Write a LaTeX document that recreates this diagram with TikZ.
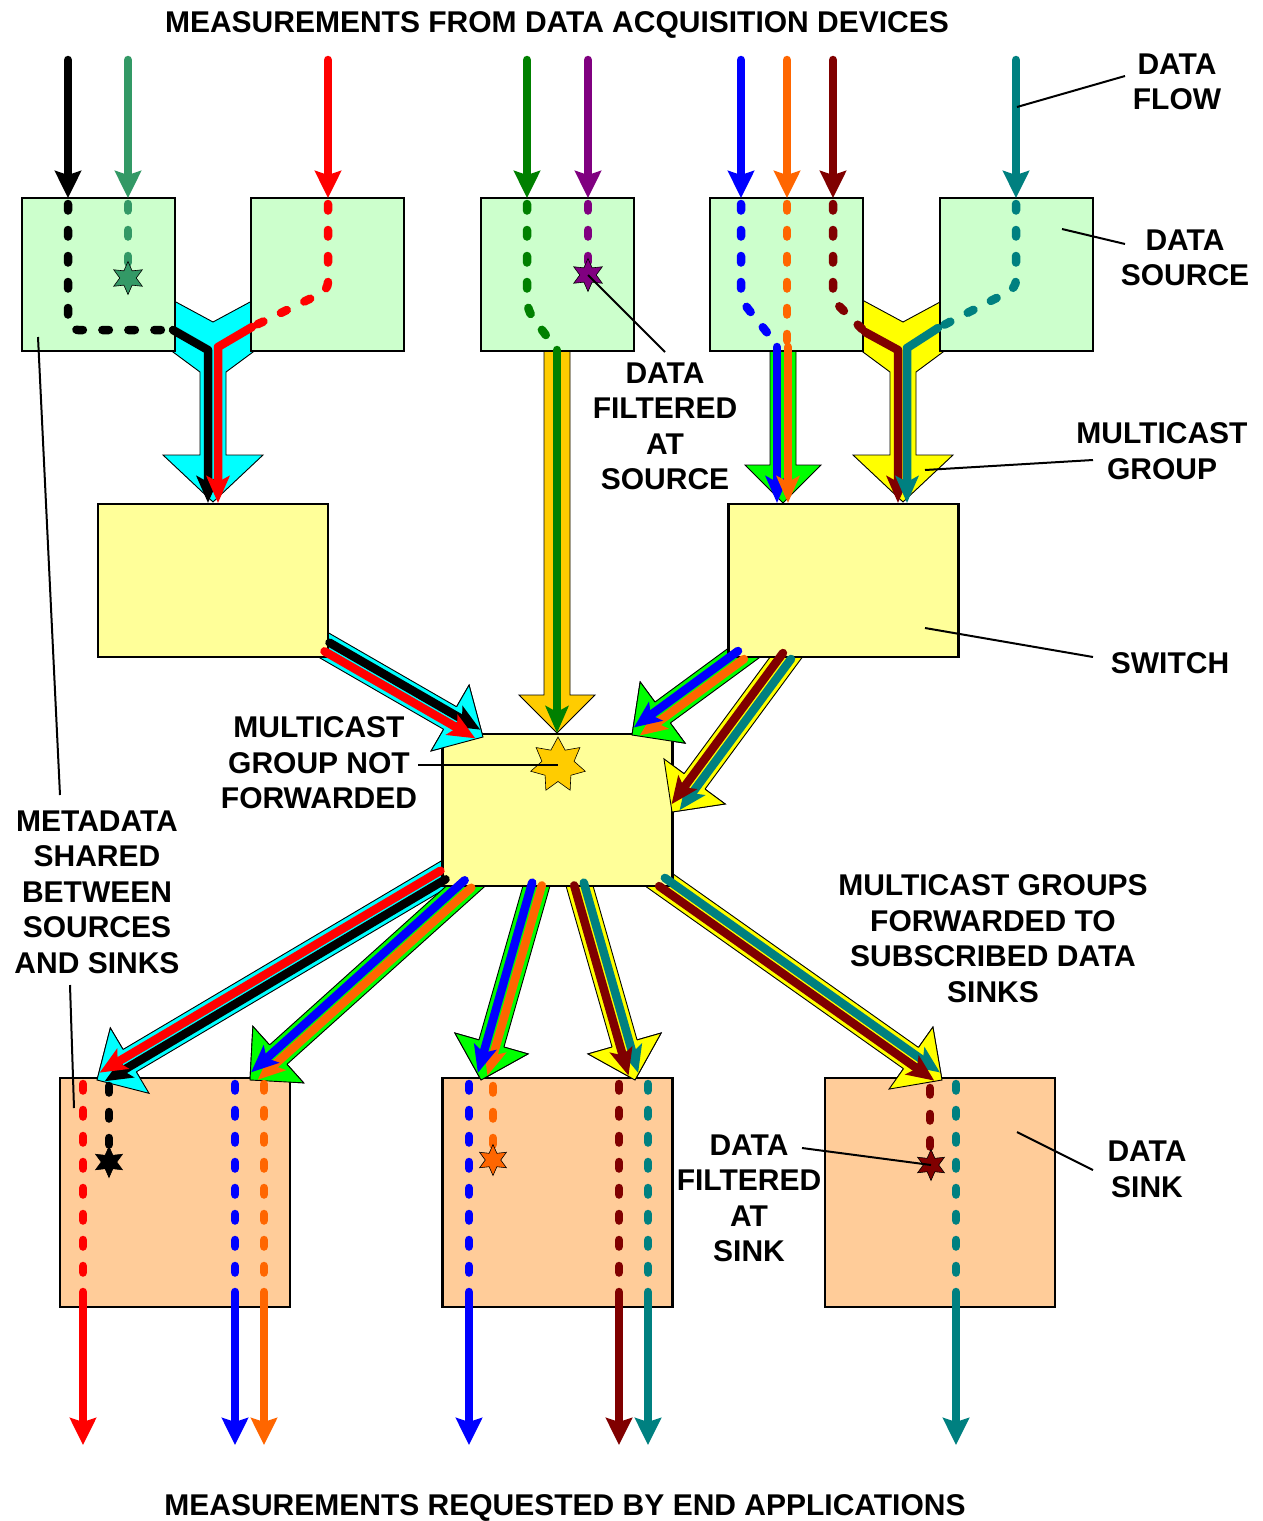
\documentclass[tikz,border=0pt]{standalone}
\usepackage{fontspec}
\setmainfont{Liberation Sans}
\usetikzlibrary{calc,arrows.meta,shapes.geometric}

\definecolor{srcfill}{HTML}{CCFFCC}
\definecolor{swfill}{HTML}{FFFF99}
\definecolor{sinkfill}{HTML}{FFCC99}
\definecolor{cseagreen}{HTML}{339966}
\definecolor{cgreen}{HTML}{008000}
\definecolor{cpurple}{HTML}{800080}
\definecolor{cblue}{HTML}{0000FF}
\definecolor{corange}{HTML}{FF6600}
\definecolor{cdarkred}{HTML}{800000}
\definecolor{cteal}{HTML}{008080}
\definecolor{cred}{HTML}{FF0000}
\definecolor{ccyan}{HTML}{00FFFF}
\definecolor{clime}{HTML}{00FF00}
\definecolor{cyellow}{HTML}{FFFF00}
\definecolor{cgold}{HTML}{FFCC00}

\newcommand{\lblfont}{\fontsize{30}{35.5}\selectfont\bfseries}

\tikzset{
  srcbox/.style={draw=black, line width=2.4pt, fill=srcfill, minimum width=153pt, minimum height=153pt, inner sep=0pt, outer sep=0pt},
  swbox/.style={draw=black, line width=2.4pt, fill=swfill, minimum width=230pt, minimum height=153pt, inner sep=0pt, outer sep=0pt},
  sinkbox/.style={draw=black, line width=2.4pt, fill=sinkfill, minimum width=230pt, minimum height=229pt, inner sep=0pt, outer sep=0pt},
  lbl/.style={font=\lblfont, align=center, inner sep=0pt},
  leader/.style={draw=black, line width=2pt},
  fatedge/.style={draw=black, line width=0.9pt, line join=miter},
  flowline/.style={line width=8.5pt, line cap=round, line join=round},
  dashline/.style={flowline, dash pattern=on 6.5pt off 19.5pt},
  endtip/.style={-{Stealth[length=27pt, width=26pt, inset=4pt]}},
  bundletip/.style={-{Stealth[length=27pt, width=23pt, inset=6pt]}},
  filterstar/.style={star, star point ratio=2, inner sep=0pt, draw=black, line width=0.6pt},
}

% wide outlined arrow from #2 to tip #3, filled with #1
\newcommand{\fatbody}[3]{%
  \path ($(#3)!38pt!(#2)$) coordinate (fbh) ($(#2)!-14pt!(#3)$) coordinate (fbs);
  \draw[fatedge, fill=#1] ($(fbs)!13pt!90:(#3)$) -- ($(fbh)!13pt!90:(#3)$) -- ($(fbh)!38pt!90:(#3)$) -- (#3)
    -- ($(fbh)!38pt!-90:(#3)$) -- ($(fbh)!13pt!-90:(#3)$) -- ($(fbs)!13pt!-90:(#3)$) -- cycle;}
% the head of such an arrow again, drawn over the box it points to
\newcommand{\fathead}[3]{%
  \path ($(#3)!38pt!(#2)$) coordinate (fbh);
  \fill[#1] ($(fbh)!38pt!90:(#3)$) -- (#3) -- ($(fbh)!38pt!-90:(#3)$) -- cycle;
  \draw[fatedge] ($(fbh)!13pt!90:(#3)$) -- ($(fbh)!38pt!90:(#3)$) -- (#3) -- ($(fbh)!38pt!-90:(#3)$) -- ($(fbh)!13pt!-90:(#3)$);}
% two flows side by side inside a wide arrow: #3 on the left, #4 on the right
\newcommand{\linepair}[4]{%
  \path ($(#2)!6pt!(#1)$) coordinate (lpe);
  \draw[flowline, bundletip, #3] ($(#1)!5pt!90:(#2)$) -- ($(lpe)!5pt!90:(#2)$);
  \draw[flowline, bundletip, #4] ($(#1)!5pt!-90:(#2)$) -- ($(lpe)!5pt!-90:(#2)$);}
% Y-shaped multicast arrow joining two sources
\newcommand{\yarrow}[1]{%
  \draw[fatedge, fill=#1] (150,288) -- (213,322) -- (276,288) -- (276,335) -- (226,372) -- (226,455)
    -- (263,455) -- (213,502) -- (163,455) -- (200,455) -- (200,372) -- (150,335) -- cycle;}

\begin{document}
\begin{tikzpicture}[x=1pt, y=-1pt]
\useasboundingbox (0,0) rectangle (1262,1521);
\fill[white] (0,0) rectangle (1262,1521);

% ---------- bundle end points ----------
\coordinate (ga) at (557,345);  \coordinate (gb) at (557,733);
\coordinate (la) at (783,345);  \coordinate (lb) at (783,503);
\coordinate (c1a) at (327,647); \coordinate (c1b) at (483,737);
\coordinate (l2a) at (741,655); \coordinate (l2b) at (632,735);
\coordinate (y2a) at (787,656); \coordinate (y2b) at (672,812);
\coordinate (c3a) at (443,875); \coordinate (c3b) at (97,1080);
\coordinate (l3a) at (468,884); \coordinate (l3b) at (250,1080);
\coordinate (l4a) at (537,884); \coordinate (l4b) at (481,1080);
\coordinate (y4a) at (579,884); \coordinate (y4b) at (635,1080);
\coordinate (y5a) at (662,882); \coordinate (y5b) at (942,1080);

% ---------- multicast group arrows (under the boxes) ----------
\yarrow{ccyan}
\begin{scope}[xshift=690pt]\yarrow{cyellow}\end{scope}
\fatbody{cgold}{ga}{gb}
\fatbody{clime}{la}{lb}
\fatbody{ccyan}{c1a}{c1b}
\fatbody{clime}{l2a}{l2b}
\fatbody{cyellow}{y2a}{y2b}
\fatbody{ccyan}{c3a}{c3b}
\fatbody{clime}{l3a}{l3b}
\fatbody{clime}{l4a}{l4b}
\fatbody{cyellow}{y4a}{y4b}
\fatbody{cyellow}{y5a}{y5b}

% ---------- data sources ----------
\node[srcbox] (s1) at (98.5,274.5) {};
\node[srcbox] (s2) at (327.5,274.5) {};
\node[srcbox] (s3) at (557.5,274.5) {};
\node[srcbox] (s4) at (786.5,274.5) {};
\node[srcbox] (s5) at (1016.5,274.5) {};
% ---------- switches ----------
\node[swbox] (w1) at (213,580.5) {};
\node[swbox] (w2) at (843.5,580.5) {};
\node[swbox, minimum height=152pt] (w3) at (557.5,810) {};
% ---------- data sinks ----------
\node[sinkbox] (k1) at (175,1192.5) {};
\node[sinkbox] (k2) at (557.5,1192.5) {};
\node[sinkbox] (k3) at (940,1192.5) {};

% heads lying over the receiving boxes
\fathead{ccyan}{c1a}{c1b}
\fathead{clime}{l2a}{l2b}
\fathead{cyellow}{y2a}{y2b}
\fathead{ccyan}{c3a}{c3b}
\fathead{clime}{l3a}{l3b}
\fathead{clime}{l4a}{l4b}
\fathead{cyellow}{y4a}{y4b}
\fathead{cyellow}{y5a}{y5b}

% ---------- incoming measurements ----------
\foreach \x/\c in {68/black, 128/cseagreen, 328/cred, 527/cgreen, 588/cpurple, 741/cblue, 787/corange, 833/cdarkred, 1016/cteal}
  \draw[flowline, endtip, \c] (\x,60) -- (\x,198);

% ---------- flows inside the sources ----------
\draw[dashline, black, rounded corners=10pt] (68,204) -- (68,330) -- (172,330);
\draw[dashline, cseagreen] (128,204) -- (128,266);
\draw[dashline, cred, rounded corners=8pt] (328,204) -- (328,290) -- (252,327);
\draw[dashline, cgreen, rounded corners=10pt] (527,204) -- (527,310) -- (557,350);
\draw[dashline, cpurple] (588,204) -- (588,262);
\draw[dashline, cblue, rounded corners=10pt] (741,204) -- (741,300) -- (777,345);
\draw[dashline, corange] (787,204) -- (787,345);
\draw[dashline, cdarkred, rounded corners=8pt] (833,204) -- (833,300) -- (865,332);
\draw[dashline, cteal, rounded corners=8pt] (1016,204) -- (1016,288) -- (938,328);

\node[filterstar, star points=6, minimum size=33pt, fill=cseagreen] (st1) at (128,278) {};
\node[filterstar, star points=6, minimum size=33pt, fill=cpurple] (st2) at (588,275) {};

% ---------- flows leaving the sources ----------
\draw[flowline, bundletip, black] (173,330) -- (208,350) -- (208,503);
\draw[flowline, bundletip, cred] (252,327) -- (218,347) -- (218,503);
\draw[flowline, bundletip, cgreen] (557,350) -- (gb);
\draw[flowline, bundletip, cblue] (777,347) -- (777,503);
\draw[flowline, bundletip, corange] (788,347) -- (788,503);
\draw[flowline, bundletip, cdarkred] (865,332) -- (898,350) -- (898,503);
\draw[flowline, bundletip, cteal] (938,328) -- (907,348) -- (907,503);

% ---------- flows between switches and sinks ----------
\linepair{c1a}{c1b}{black}{cred}
\linepair{l2a}{l2b}{corange}{cblue}
\linepair{y2a}{y2b}{cteal}{cdarkred}
\linepair{c3a}{c3b}{black}{cred}
\linepair{l3a}{l3b}{corange}{cblue}
\linepair{l4a}{l4b}{corange}{cblue}
\linepair{y4a}{y4b}{cteal}{cdarkred}
\linepair{y5a}{y5b}{cteal}{cdarkred}

\node[filterstar, star points=7, star point ratio=1.7, minimum size=56pt, fill=cgold] (st3) at (558,765) {};

% ---------- flows inside the sinks ----------
\foreach \x/\c in {83/cred, 235/cblue, 264/corange, 469/cblue, 619/cdarkred, 648/cteal, 956/cteal}{
  \draw[dashline, \c] (\x,1084) -- (\x,1300);
  \draw[flowline, endtip, \c] (\x,1298) -- (\x,1445);
}
\draw[dashline, black] (109,1086) -- (109,1150);
\draw[dashline, corange] (493,1086) -- (493,1148);
\draw[dashline, cdarkred] (930,1088) -- (930,1152);
\node[filterstar, star points=6, minimum size=31pt, fill=black] (st4) at (109,1162) {};
\node[filterstar, star points=6, minimum size=31pt, fill=corange] (st5) at (493,1160) {};
\node[filterstar, star points=6, minimum size=31pt, fill=cdarkred] (st6) at (931,1165) {};

% ---------- labels ----------
\node[lbl, anchor=base] (ttop) at (557,32) {MEASUREMENTS FROM DATA ACQUISITION DEVICES};
\node[lbl, anchor=base] (tbottom) at (565,1515) {MEASUREMENTS REQUESTED BY END APPLICATIONS};
\node[lbl] (tflow) at (1177,82) {DATA\\FLOW};
\node[lbl] (tsource) at (1185,258) {DATA\\SOURCE};
\node[lbl] (tfsrc) at (665,426.5) {DATA\\FILTERED\\AT\\SOURCE};
\node[lbl] (tmcg) at (1162,451) {MULTICAST\\GROUP};
\node[lbl] (tswitch) at (1170,663) {SWITCH};
\node[lbl] (tnotfw) at (319,763) {MULTICAST\\GROUP NOT\\FORWARDED};
\node[lbl] (tmeta) at (97,892) {METADATA\\SHARED\\BETWEEN\\SOURCES\\AND SINKS};
\node[lbl] (tfwd) at (993,938.5) {MULTICAST GROUPS\\FORWARDED TO\\SUBSCRIBED DATA\\SINKS};
\node[lbl] (tfsink) at (749,1198.5) {DATA\\FILTERED\\AT\\SINK};
\node[lbl] (tsink) at (1147,1169.5) {DATA\\SINK};

% ---------- leader lines ----------
\coordinate (pflow) at (1017,107);   \coordinate (qflow) at (1125,76);
\coordinate (psrc) at (1062,229);    \coordinate (qsrc) at (1125,244);
\coordinate (qfsrc) at (665,352);
\coordinate (pmcg) at (925,470);     \coordinate (qmcg) at (1093,460);
\coordinate (psw) at (925,628);      \coordinate (qsw) at (1093,657);
\coordinate (qnot) at (418,765);
\coordinate (pmeta1) at (38,337);    \coordinate (qmeta1) at (60,795);
\coordinate (qmeta2) at (70,985);    \coordinate (pmeta2) at (74,1108);
\coordinate (qfsink) at (802,1148);
\coordinate (psink) at (1017,1132);  \coordinate (qsink) at (1093,1170);
\draw[leader] (pflow) -- (qflow);
\draw[leader] (psrc) -- (qsrc);
\draw[leader] (st2.center) -- (qfsrc);
\draw[leader] (pmcg) -- (qmcg);
\draw[leader] (psw) -- (qsw);
\draw[leader] (qnot) -- (st3.center);
\draw[leader] (pmeta1) -- (qmeta1);
\draw[leader] (qmeta2) -- (pmeta2);
\draw[leader] (qfsink) -- (st6.center);
\draw[leader] (psink) -- (qsink);
\end{tikzpicture}
\end{document}
